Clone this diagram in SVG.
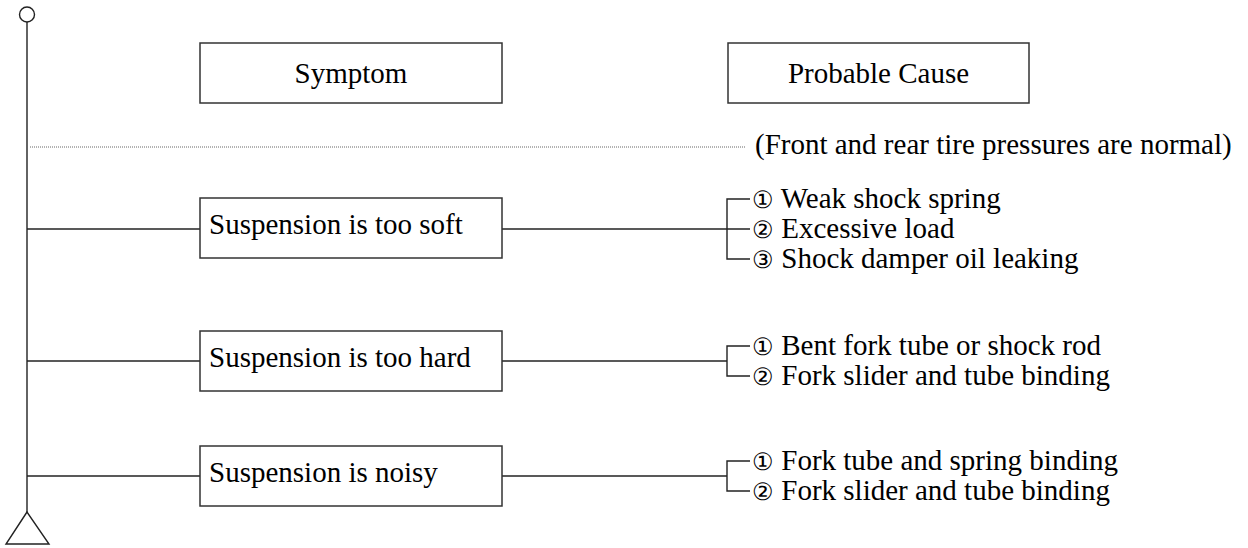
<svg xmlns="http://www.w3.org/2000/svg" width="1248" height="548" viewBox="0 0 1248 548">
<rect width="1248" height="548" fill="#fff"/>
<g id="spine" stroke="#222" stroke-width="1.4" fill="none">
<circle cx="27" cy="14.5" r="7.5"/>
<line x1="27" y1="22" x2="27" y2="512"/>
<polygon points="27,512 6,544 49,544"/>
</g>
<g id="connectors" stroke="#222" stroke-width="1.4" fill="none">
<line x1="30" y1="147" x2="746" y2="147" stroke="#666" stroke-width="1" stroke-dasharray="1 1"/>
<line x1="27" y1="229" x2="200" y2="229"/>
<line x1="502" y1="229" x2="727" y2="229"/>
<path d="M750,199 H727 V259 H750 M727,229 H750"/>
<line x1="27" y1="361" x2="200" y2="361"/>
<line x1="502" y1="361" x2="727" y2="361"/>
<path d="M750,346 H727 V376 H750"/>
<line x1="27" y1="476" x2="200" y2="476"/>
<line x1="502" y1="476" x2="727" y2="476"/>
<path d="M750,461 H727 V491 H750"/>
</g>
<g id="header-symptom">
<rect x="200" y="43" width="302" height="60" fill="#fff" stroke="#333" stroke-width="1.5"/>
<text x="351" y="83" text-anchor="middle" font-family="Liberation Serif" font-size="29">Symptom</text>
</g>
<g id="header-cause">
<rect x="728" y="43" width="301" height="60" fill="#fff" stroke="#333" stroke-width="1.5"/>
<text x="878.5" y="83" text-anchor="middle" font-family="Liberation Serif" font-size="29">Probable Cause</text>
</g>
<g id="note">
<text x="755" y="154" font-family="Liberation Serif" font-size="29">(Front and rear tire pressures are normal)</text>
</g>
<g id="symptom-soft">
<rect x="200" y="198" width="302" height="60" fill="#fff" stroke="#333" stroke-width="1.5"/>
<text x="209" y="234" font-family="Liberation Serif" font-size="29">Suspension is too soft</text>
</g>
<g id="causes-soft">
<text x="752" y="208" font-family="Liberation Serif" font-size="29"><tspan font-size="24">①</tspan> Weak shock spring</text>
<text x="752" y="238" font-family="Liberation Serif" font-size="29"><tspan font-size="24">②</tspan> Excessive load</text>
<text x="752" y="268" font-family="Liberation Serif" font-size="29"><tspan font-size="24">③</tspan> Shock damper oil leaking</text>
</g>
<g id="symptom-hard">
<rect x="200" y="331" width="302" height="60" fill="#fff" stroke="#333" stroke-width="1.5"/>
<text x="209" y="367" font-family="Liberation Serif" font-size="29">Suspension is too hard</text>
</g>
<g id="causes-hard">
<text x="752" y="355" font-family="Liberation Serif" font-size="29"><tspan font-size="24">①</tspan> Bent fork tube or shock rod</text>
<text x="752" y="385" font-family="Liberation Serif" font-size="29"><tspan font-size="24">②</tspan> Fork slider and tube binding</text>
</g>
<g id="symptom-noisy">
<rect x="200" y="446" width="302" height="60" fill="#fff" stroke="#333" stroke-width="1.5"/>
<text x="209" y="482" font-family="Liberation Serif" font-size="29">Suspension is noisy</text>
</g>
<g id="causes-noisy">
<text x="752" y="470" font-family="Liberation Serif" font-size="29"><tspan font-size="24">①</tspan> Fork tube and spring binding</text>
<text x="752" y="500" font-family="Liberation Serif" font-size="29"><tspan font-size="24">②</tspan> Fork slider and tube binding</text>
</g>
</svg>
